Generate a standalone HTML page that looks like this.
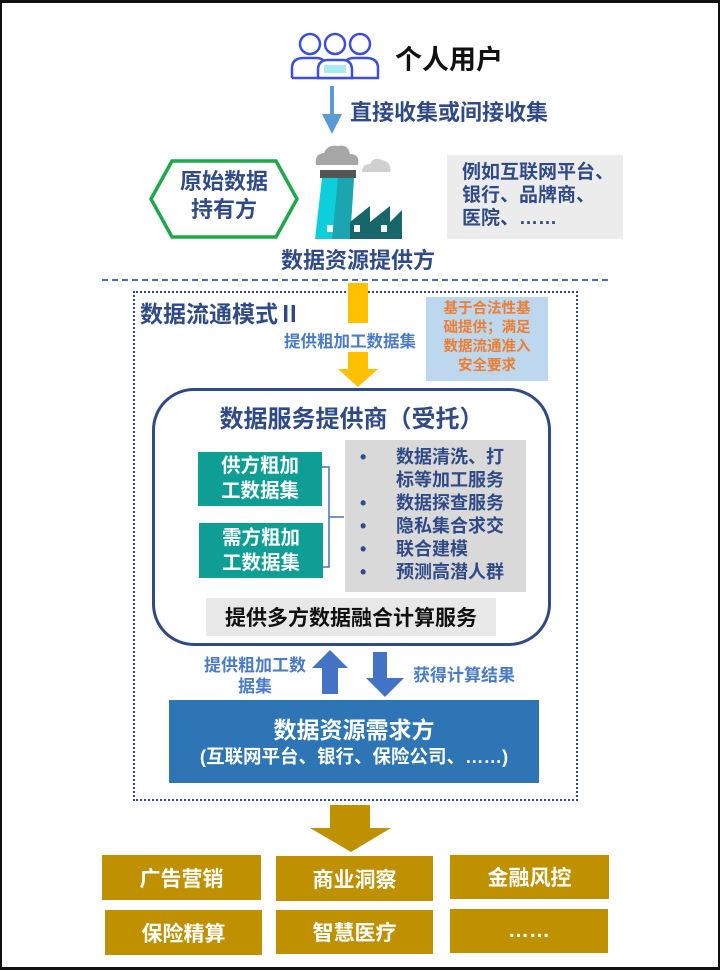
<!DOCTYPE html>
<html><head><meta charset="utf-8"><style>
*{margin:0;padding:0;box-sizing:border-box}
body{width:720px;height:970px;background:#fff;position:relative;overflow:hidden;font-family:"Liberation Sans","Noto Sans CJK SC",sans-serif;font-weight:bold}
.a{position:absolute}
.t{position:absolute;white-space:nowrap;color:#2f4a86}
.c{display:flex;align-items:center;justify-content:center;text-align:center}
</style></head><body>
<div class="a" style="left:0;top:0;width:720px;height:970px;border:2px solid #111;border-top-width:3px;border-bottom-width:3px"></div>

<svg class="a" style="left:288px;top:30px" width="95" height="52" viewBox="0 0 95 52">
<g fill="none" stroke="#3d4fd8" stroke-width="2.5">
<circle cx="22" cy="14" r="10"/><circle cx="47" cy="14" r="10"/><circle cx="72" cy="14" r="10"/>
<path d="M4 48 V38 Q4 28 16 28 H28 Q38 28 38 38"/>
<path d="M56 38 Q56 28 66 28 H78 Q90 28 90 38 V48 H4"/>
<path d="M30 48 V40 Q30 30 40 30 H54 Q64 30 64 40 V48 Z" fill="#fff"/>
</g>
<rect x="36" y="35" width="22" height="8" fill="#a8ecf0"/>
</svg>
<div class="t" style="left:395px;top:38px;font-size:27px;color:#111">个人用户</div>

<svg class="a" style="left:320px;top:86px" width="24" height="50"><rect x="10" y="0" width="4" height="30" fill="#5b9bd5"/><polygon points="2,28 22,28 12,48" fill="#5b9bd5"/></svg>
<div class="t" style="left:350px;top:95px;font-size:22px">直接收集或间接收集</div>

<svg class="a" style="left:148px;top:158px" width="152" height="82"><polygon points="3,41 24,3 128,3 149,41 128,79 24,79" fill="#fff" stroke="#1ea84a" stroke-width="3.5"/></svg>
<div class="t c" style="left:150px;top:168px;width:148px;font-size:22px;line-height:28px">原始数据<br>持有方</div>

<svg class="a" style="left:310px;top:140px" width="95" height="100">
<path d="M6 25 Q4 14 14 13 Q18 4 28 6 Q38 4 40 14 Q50 14 48 25 Z" fill="#a6a6a6"/>
<path d="M52 32 Q52 24 60 24 Q64 16 72 20 Q82 22 80 32 Z" fill="#d0d0d0"/>
<rect x="10" y="30" width="36" height="8" fill="#555"/>
<polygon points="12,38 44,38 40,99 5,99" fill="#0dcfdc"/>
<polygon points="28,38 44,38 40,99 22,99" fill="#1ba5b0"/>
<polygon points="40,99 40,82 60,66 60,82 80,66 80,82 92,70 92,99" fill="#17676a"/>
<rect x="17" y="85" width="6" height="7" fill="#fff"/><rect x="44" y="85" width="6" height="7" fill="#fff"/><rect x="71" y="85" width="6" height="7" fill="#fff"/>
</svg>

<div class="a" style="left:447px;top:155px;width:176px;height:84px;background:#ececec"></div>
<div class="t" style="left:462px;top:161px;font-size:19px;line-height:23px">例如互联网平台、<br>银行、品牌商、<br>医院、……</div>

<div class="t" style="left:281px;top:243px;font-size:22px">数据资源提供方</div>
<div class="a" style="left:102px;top:279px;width:506px;border-top:2px dashed #4a6fb0"></div>

<div class="a" style="left:133px;top:291px;width:445px;height:510px;border:2px dotted #2f4a86"></div>
<div class="t" style="left:140px;top:295px;font-size:23px">数据流通模式Ⅱ</div>

<svg class="a" style="left:336px;top:283px" width="44" height="105"><rect x="12" y="0" width="20" height="40" fill="#ffc000"/><rect x="12" y="69" width="20" height="18" fill="#ffc000"/><polygon points="2,86 42,86 22,104" fill="#ffc000"/></svg>
<div class="t" style="left:284px;top:328px;font-size:16.5px;color:#4a7bc4">提供粗加工数据集</div>
<div class="a" style="left:426px;top:297px;width:122px;height:84px;background:#bdd7ee"></div>
<div class="t c" style="left:426px;top:300px;width:122px;font-size:14.5px;line-height:19px;color:#ed7d31">基于合法性基<br>础提供；满足<br>数据流通准入<br>安全要求</div>

<div class="a" style="left:152px;top:388px;width:399px;height:258px;border:3px solid #2f4a86;border-radius:42px"></div>
<div class="t c" style="left:152px;top:399px;width:399px;font-size:24px">数据服务提供商（受托）</div>
<div class="a c" style="left:198px;top:452px;width:124px;height:54px;background:#0f9e96;color:#fff;font-size:19.5px;line-height:25px">供方粗加<br>工数据集</div>
<div class="a c" style="left:199px;top:523px;width:124px;height:55px;background:#0f9e96;color:#fff;font-size:19.5px;line-height:25px">需方粗加<br>工数据集</div>
<svg class="a" style="left:322px;top:465px" width="24" height="120" fill="none" stroke="#4472c4" stroke-width="1.5"><path d="M0 2 H7 V102 H0 M7 52 H22"/></svg>
<div class="a" style="left:345px;top:440px;width:181px;height:152px;background:#d9d9d9"></div>
<div class="t" style="left:360px;top:446px;font-size:18px;line-height:23px">•<br><br>•<br>•<br>•<br>•</div>
<div class="t" style="left:396px;top:446px;font-size:18px;line-height:23px">数据清洗、打<br>标等加工服务<br>数据探查服务<br>隐私集合求交<br>联合建模<br>预测高潜人群</div>
<div class="a c" style="left:206px;top:598px;width:290px;height:38px;background:#e8e8e8;color:#111;font-size:21px">提供多方数据融合计算服务</div>

<svg class="a" style="left:310px;top:648px" width="100" height="52" fill="#4472c4"><polygon points="2,20 20,2 38,20 28,20 28,46 12,46 12,20"/><polygon points="63,4 77,4 77,30 94,30 75,49 56,30 63,30"/></svg>
<div class="t" style="left:204px;top:655px;font-size:17px;line-height:21px;text-align:center;color:#4a7bc4">提供粗加工数<br>据集</div>
<div class="t" style="left:413px;top:661px;font-size:17px;color:#4a7bc4">获得计算结果</div>

<div class="a c" style="left:169px;top:700px;width:370px;height:83px;background:#2e75b6;color:#fff;flex-direction:column">
<div style="font-size:23px;line-height:30px">数据资源需求方</div><div style="font-size:18.5px;line-height:24px">(互联网平台、银行、保险公司、……)</div></div>

<svg class="a" style="left:310px;top:805px" width="82" height="48" fill="#bf9000"><rect x="20" y="0" width="40" height="24"/><polygon points="0,23 81,23 41,47"/></svg>
<div class="a c" style="left:102px;top:855px;width:159px;height:45px;background:#bf9000;color:#fff;font-size:21px">广告营销</div>
<div class="a c" style="left:276px;top:856px;width:157px;height:45px;background:#bf9000;color:#fff;font-size:21px">商业洞察</div>
<div class="a c" style="left:450px;top:855px;width:159px;height:44px;background:#bf9000;color:#fff;font-size:21px">金融风控</div>
<div class="a c" style="left:105px;top:910px;width:157px;height:45px;background:#bf9000;color:#fff;font-size:21px">保险精算</div>
<div class="a c" style="left:276px;top:910px;width:157px;height:44px;background:#bf9000;color:#fff;font-size:21px">智慧医疗</div>
<div class="a c" style="left:450px;top:909px;width:158px;height:44px;background:#bf9000;color:#fff;font-size:21px">……</div>
</body></html>
